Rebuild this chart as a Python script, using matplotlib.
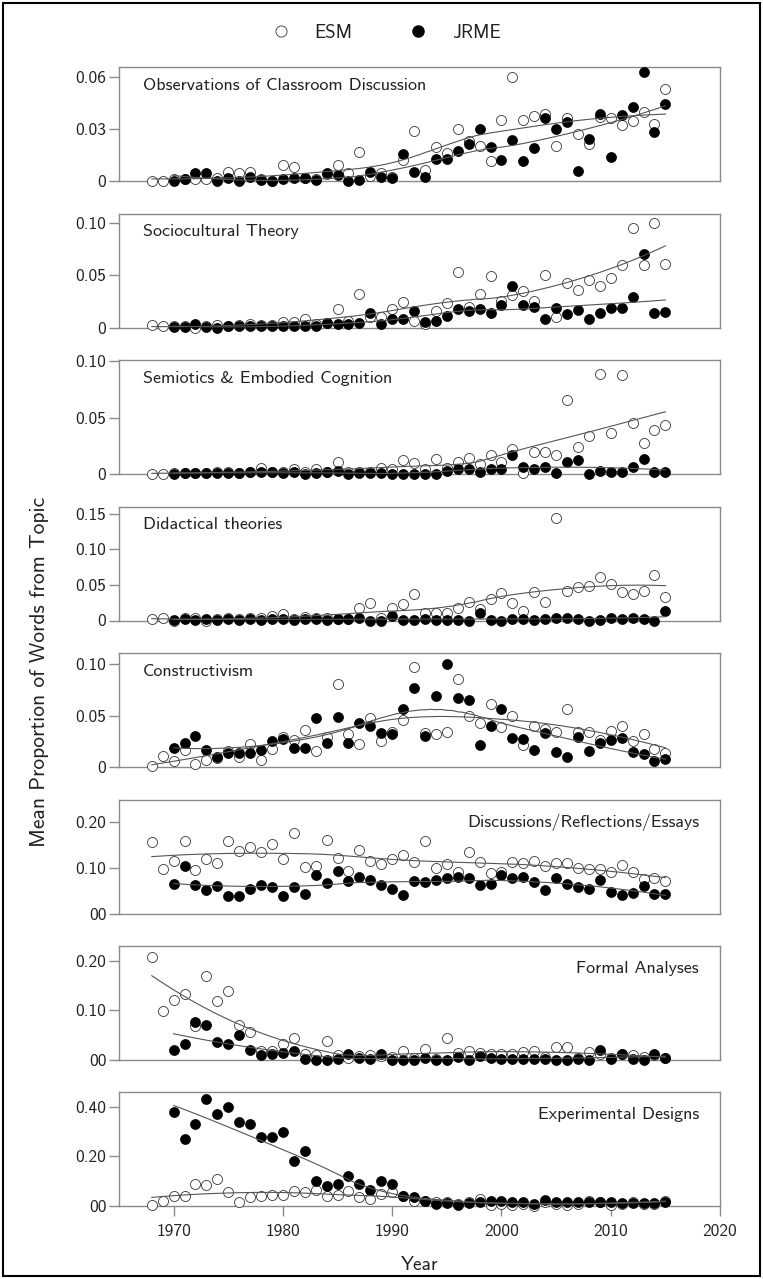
import numpy as np
import matplotlib
matplotlib.use("Agg")
import matplotlib.pyplot as plt
from matplotlib.lines import Line2D
from matplotlib.patches import Rectangle

plt.rcParams['font.family'] = ['cmss10', 'DejaVu Sans']
plt.rcParams['axes.unicode_minus'] = False

years_esm = list(range(1968, 2016))
years_jrme = list(range(1970, 2016))

titles = ["Observations of Classroom Discussion", "Sociocultural Theory",
          "Semiotics & Embodied Cognition", "Didactical theories", "Constructivism",
          "Discussions/Reflections/Essays", "Formal Analyses", "Experimental Designs"]

esm_observations = [0, 0, 0.001, 0.001, 0.001, 0.001, 0.002, 0.005, 0.0045, 0.0055,
                    0.001, 0, 0.0095, 0.008, 0.0015, 0.001, 0.004, 0.0095, 0.0045, 0.017,
                    0.003, 0.0045, 0.0025, 0.012, 0.029, 0.0065, 0.0195, 0.016, 0.030, 0.023,
                    0.020, 0.0115, 0.0355, 0.060, 0.0355, 0.0375, 0.039, 0.020, 0.0365, 0.027,
                    0.0215, 0.037, 0.0365, 0.0325, 0.035, 0.040, 0.033, 0.0535]
jrme_observations = [0, 0.001, 0.0045, 0.0045, 0, 0.0015, 0, 0.0025, 0.0005, 0,
                     0.001, 0.002, 0.0015, 0.0005, 0.0045, 0.0035, 0, 0.0005, 0.0055, 0.0025,
                     0.0015, 0.0155, 0.0055, 0.0025, 0.013, 0.013, 0.0175, 0.0215, 0.030, 0.0195,
                     0.012, 0.0235, 0.0115, 0.019, 0.0365, 0.030, 0.034, 0.006, 0.0245, 0.039,
                     0.014, 0.038, 0.043, 0.063, 0.0285, 0.0445]

esm_sociocultural = [0.002, 0.001, 0.001, 0.001, 0, 0.001, 0.002, 0.001, 0.002, 0.003,
                     0.002, 0.002, 0.005, 0.005, 0.008, 0.003, 0.004, 0.0175, 0.006, 0.0325,
                     0.010, 0.010, 0.0175, 0.024, 0.006, 0.003, 0.0155, 0.023, 0.053, 0.020,
                     0.0325, 0.049, 0.0255, 0.031, 0.035, 0.0255, 0.050, 0.010, 0.0425, 0.036,
                     0.045, 0.040, 0.047, 0.060, 0.095, 0.060, 0.0995, 0.061]
jrme_sociocultural = [0.0005, 0.0005, 0.003, 0.0005, 0, 0.001, 0.001, 0.001, 0.001, 0.001,
                      0.001, 0.001, 0.001, 0.001, 0.004, 0.003, 0.003, 0.004, 0.014, 0.003,
                      0.008, 0.0085, 0.0155, 0.005, 0.006, 0.011, 0.0175, 0.0155, 0.0175, 0.014,
                      0.0215, 0.040, 0.0215, 0.020, 0.008, 0.0185, 0.0125, 0.0165, 0.008, 0.014,
                      0.0185, 0.0185, 0.029, 0.070, 0.014, 0.0145]

esm_semiotics = [0, 0, 0.001, 0.001, 0.001, 0.001, 0.002, 0.002, 0.001, 0.002,
                 0.005, 0.002, 0.002, 0.0045, 0.002, 0.004, 0.002, 0.011, 0.002, 0.002,
                 0.002, 0.005, 0.004, 0.012, 0.010, 0.0045, 0.0135, 0.005, 0.011, 0.0145,
                 0.0085, 0.017, 0.011, 0.022, 0.001, 0.0195, 0.0195, 0.017, 0.066, 0.0235,
                 0.034, 0.0885, 0.0365, 0.0875, 0.0455, 0.0275, 0.039, 0.0435]
jrme_semiotics = [0, 0.001, 0.001, 0.001, 0.001, 0.001, 0.001, 0.002, 0.002, 0.002,
                  0.001, 0.002, 0, 0.001, 0.002, 0.003, 0, 0.001, 0.001, 0.001,
                  0, 0, 0, 0, 0, 0.003, 0.004, 0.004, 0.002, 0.004,
                  0.0045, 0.0165, 0.0065, 0.004, 0.0065, 0.001, 0.011, 0.012, 0, 0.003,
                  0.002, 0.002, 0.0065, 0.0135, 0.002, 0.002]

esm_didactical = [0.002, 0.003, 0, 0.004, 0.004, 0, 0.002, 0.003, 0.002, 0.003,
                  0.004, 0.006, 0.009, 0.002, 0.005, 0.004, 0.003, 0.002, 0.002, 0.017,
                  0.024, 0.003, 0.017, 0.023, 0.0365, 0.0105, 0.0105, 0.0105, 0.017, 0.0255,
                  0.0165, 0.030, 0.038, 0.024, 0.0135, 0.040, 0.0255, 0.144, 0.041, 0.047,
                  0.049, 0.061, 0.0515, 0.040, 0.0365, 0.0415, 0.0645, 0.0335]
jrme_didactical = [0.001, 0.002, 0.001, 0.002, 0.001, 0.002, 0.001, 0.002, 0.001, 0.002,
                   0.002, 0.001, 0.002, 0.002, 0.001, 0.002, 0.002, 0.004, 0, 0,
                   0.006, 0.001, 0.001, 0.002, 0.001, 0.001, 0.001, 0, 0.0105, 0.001,
                   0, 0.002, 0.002, 0.001, 0.002, 0.004, 0.004, 0.002, 0, 0.001,
                   0.004, 0.002, 0.003, 0.002, 0, 0.014]

esm_constructivism = [0.001, 0.011, 0.0055, 0.017, 0.003, 0.007, 0.0085, 0.0155, 0.010, 0.0225,
                      0.007, 0.018, 0.029, 0.0265, 0.0365, 0.016, 0.029, 0.081, 0.032, 0.0225,
                      0.048, 0.025, 0.034, 0.046, 0.0975, 0.033, 0.032, 0.034, 0.086, 0.050,
                      0.0425, 0.061, 0.039, 0.050, 0.021, 0.040, 0.037, 0.034, 0.0565, 0.034,
                      0.034, 0.0265, 0.035, 0.0395, 0.0256, 0.032, 0.0173, 0.014]
jrme_constructivism = [0.0185, 0.0235, 0.030, 0.0165, 0.010, 0.0133, 0.0133, 0.0133, 0.0164, 0.0256,
                       0.027, 0.0185, 0.0185, 0.048, 0.0235, 0.049, 0.0235, 0.0426, 0.0395, 0.0327,
                       0.0318, 0.0565, 0.077, 0.030, 0.0688, 0.1006, 0.0667, 0.0648, 0.021, 0.0395,
                       0.0565, 0.0287, 0.0272, 0.0164, 0.0327, 0.0148, 0.0102, 0.0296, 0.0154, 0.0235,
                       0.0265, 0.0287, 0.0148, 0.0123, 0.0056, 0.008]

esm_discussions = [0.156, 0.098, 0.115, 0.158, 0.0956, 0.120, 0.110, 0.159, 0.138, 0.145,
                   0.1346, 0.152, 0.120, 0.1756, 0.101, 0.104, 0.161, 0.1225, 0.094, 0.140,
                   0.115, 0.108, 0.119, 0.1275, 0.113, 0.159, 0.099, 0.108, 0.090, 0.1346,
                   0.113, 0.0885, 0.090, 0.113, 0.110, 0.115, 0.104, 0.111, 0.111, 0.099,
                   0.098, 0.097, 0.092, 0.106, 0.090, 0.0758, 0.078, 0.071]
jrme_discussions = [0.0637, 0.104, 0.0623, 0.0517, 0.060, 0.0375, 0.0375, 0.0545, 0.0616, 0.0588,
                    0.0375, 0.058, 0.0425, 0.085, 0.067, 0.094, 0.0708, 0.080, 0.0744, 0.0616,
                    0.053, 0.040, 0.0708, 0.0687, 0.0744, 0.078, 0.080, 0.078, 0.0616, 0.0637,
                    0.085, 0.078, 0.080, 0.0687, 0.0517, 0.078, 0.065, 0.0588, 0.053, 0.0744,
                    0.0474, 0.040, 0.0446, 0.060, 0.0425, 0.0425]

esm_formal = [0.207, 0.098, 0.122, 0.134, 0.068, 0.169, 0.120, 0.139, 0.0714, 0.057,
              0.0185, 0.0185, 0.0317, 0.045, 0.012, 0.0106, 0.0383, 0.0106, 0.004, 0.0086,
              0.0106, 0.0086, 0.0066, 0.0185, 0.004, 0.0218, 0.002, 0.0436, 0.015, 0.0185,
              0.015, 0.013, 0.013, 0.013, 0.017, 0.0185, 0.0066, 0.0264, 0.0264, 0.004,
              0.017, 0.012, 0.004, 0.013, 0.0106, 0.0066, 0.0106, 0.004]
jrme_formal = [0.0198, 0.0317, 0.0767, 0.0714, 0.037, 0.0317, 0.050, 0.0198, 0.0106, 0.013,
               0.015, 0.0185, 0.002, 0.001, 0.001, 0.002, 0.013, 0.004, 0.002, 0.013,
               0.001, 0.001, 0.001, 0.004, 0.001, 0.001, 0.006, 0.001, 0.0086, 0.004,
               0.002, 0.002, 0.002, 0.002, 0.002, 0.001, 0.001, 0.002, 0.001, 0.0195,
               0.002, 0.013, 0.002, 0.001, 0.013, 0.004]

esm_experimental = [0.005, 0.02, 0.04, 0.04, 0.09, 0.085, 0.11, 0.055, 0.015, 0.035,
                    0.04, 0.045, 0.045, 0.06, 0.055, 0.065, 0.04, 0.045, 0.06, 0.035,
                    0.03, 0.05, 0.055, 0.04, 0.02, 0.02, 0.015, 0.015, 0.01, 0.015,
                    0.03, 0.005, 0.01, 0.005, 0.01, 0.0, 0.015, 0.01, 0.005, 0.01,
                    0.02, 0.015, 0.005, 0.01, 0.015, 0.01, 0.01, 0.02]
jrme_experimental = [0.38, 0.27, 0.33, 0.43, 0.37, 0.40, 0.34, 0.33, 0.28, 0.28,
                     0.30, 0.18, 0.22, 0.10, 0.08, 0.09, 0.12, 0.09, 0.065, 0.10,
                     0.09, 0.04, 0.035, 0.02, 0.01, 0.012, 0.005, 0.012, 0.015, 0.02,
                     0.02, 0.018, 0.015, 0.01, 0.025, 0.015, 0.015, 0.015, 0.015, 0.015,
                     0.015, 0.012, 0.012, 0.012, 0.012, 0.018]

esm_series = [esm_observations, esm_sociocultural, esm_semiotics, esm_didactical,
              esm_constructivism, esm_discussions, esm_formal, esm_experimental]
jrme_series = [jrme_observations, jrme_sociocultural, jrme_semiotics, jrme_didactical,
               jrme_constructivism, jrme_discussions, jrme_formal, jrme_experimental]

y_ticks = [[0, 0.03, 0.06], [0, 0.05, 0.10], [0, 0.05, 0.10], [0, 0.05, 0.10, 0.15],
           [0, 0.05, 0.10], [0, 0.10, 0.20], [0, 0.10, 0.20], [0, 0.20, 0.40]]
y_ticklabels = [["0", "0.03", "0.06"], ["0", "0.05", "0.10"], ["0", "0.05", "0.10"],
                ["0", "0.05", "0.10", "0.15"], ["0", "0.05", "0.10"],
                ["00", "0.10", "0.20"], ["00", "0.10", "0.20"], ["00", "0.20", "0.40"]]
y_max = [0.066, 0.109, 0.101, 0.16, 0.111, 0.25, 0.23, 0.46]
x_ticks = [1970, 1980, 1990, 2000, 2010, 2020]


def loess(x, y, xg, span=0.75):
    """Local quadratic regression with tricube weights (R loess defaults)."""
    x = np.asarray(x, float)
    y = np.asarray(y, float)
    q = int(np.floor(len(x) * span))
    out = []
    for x0 in xg:
        d = np.abs(x - x0)
        h = np.sort(d)[q - 1]
        w = np.clip(1 - (d / h) ** 3, 0, None) ** 3
        c = np.polyfit(x - x0, y, 2, w=np.sqrt(w))
        out.append(c[-1])
    return np.array(out)


W, H = 763, 1279
fig = plt.figure(figsize=(W / 100, H / 100), dpi=100)
bottoms = [181, 327.5, 474, 620.5, 767, 913.5, 1060, 1206]
ph = 114
left, right = 119, 720
spine_col = "#8a8a8a"
txt_col = "#222222"

for i in range(8):
    ax = fig.add_axes([left / W, 1 - bottoms[i] / H, (right - left) / W, ph / H])
    xe = np.array(years_esm)
    xj = np.array(years_jrme)
    ax.plot(xe, esm_series[i], 'o', ms=7.2, mfc='white', mec='#333333', mew=0.6,
            clip_on=False, zorder=3)
    ax.plot(xj, jrme_series[i], 'o', ms=7.2, mfc='black', mec='black', mew=0.5,
            clip_on=False, zorder=4)
    ge = np.linspace(xe.min(), xe.max(), 200)
    gj = np.linspace(xj.min(), xj.max(), 200)
    ax.plot(ge, loess(xe, esm_series[i], ge), color='#555555', lw=0.8, zorder=5)
    ax.plot(gj, loess(xj, jrme_series[i], gj), color='#555555', lw=0.8, zorder=5)
    ax.set_xlim(1965, 2020)
    ax.set_ylim(0, y_max[i])
    ax.set_yticks(y_ticks[i])
    ax.set_yticklabels(y_ticklabels[i])
    for s in ax.spines.values():
        s.set_color(spine_col)
        s.set_linewidth(1.0)
    ax.tick_params(axis='y', direction='out', length=7, width=1.0, color=spine_col,
                   labelsize=12.5, labelcolor=txt_col, pad=2)
    if i < 7:
        ax.set_xticks([])
    else:
        ax.set_xticks(x_ticks)
        ax.tick_params(axis='x', direction='out', length=7, width=1.0, color=spine_col,
                       labelsize=12.5, labelcolor=txt_col, pad=6)
        ax.set_xlabel("Year", fontsize=14, color=txt_col, labelpad=12)
    if i < 5:
        ax.text(0.04, 0.84, titles[i], transform=ax.transAxes, ha='left', va='center',
                fontsize=13, color=txt_col)
    else:
        ax.text(0.965, 0.80, titles[i], transform=ax.transAxes, ha='right', va='center',
                fontsize=13, color=txt_col)

fig.text(40 / W, 1 - 672 / H, "Mean Proportion of Words from Topic", rotation=90,
         ha='center', va='center', fontsize=15.5, color=txt_col)

handles = [Line2D([], [], marker='o', ls='', ms=8, mfc='white', mec='#333333', mew=0.6),
           Line2D([], [], marker='o', ls='', ms=8, mfc='black', mec='black')]
fig.legend(handles, ["ESM", "JRME"], loc='center', bbox_to_anchor=(0.5, 1 - 33 / H),
           ncol=2, frameon=False, fontsize=13.5, handletextpad=0.8, columnspacing=2.5,
           labelcolor=txt_col)

fig.patches.append(Rectangle((3 / W, 3 / H), 1 - 6 / W, 1 - 6 / H, transform=fig.transFigure,
                             fill=False, edgecolor='black', lw=1.5))

fig.savefig("out.png", dpi=100)
